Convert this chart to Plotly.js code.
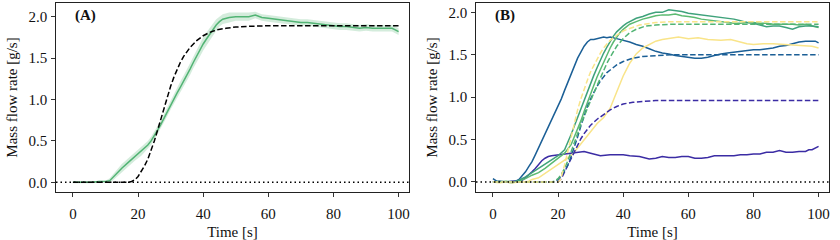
<!DOCTYPE html>
<html>
<head>
<meta charset="utf-8">
<script src="https://cdn.plot.ly/plotly-3.0.1.min.js"></script>
<style>html,body{margin:0;padding:0;background:#fff;}#chart{width:840px;height:240px;}</style>
</head>
<body>
<div id="chart"></div>
<script>
// ---------- Panel A data ----------
const tA = [0,2,4,6,8,10,11.3,13,15,17,19,21,23,24,25,26,27,28,29,30,31,32,33,34,35,36,37,38,39,40,41,42,43,44,45,46,48,50,52,54,56,58,60,62,64,66,68,70,72,74,76,78,80,82,84,86,88,90,92,94,96,98,99,100];
const flowA = [0,0,0.005,0,0.01,0.01,0.02,0.09,0.17,0.24,0.31,0.37,0.45,0.50,0.56,0.63,0.70,0.78,0.86,0.94,1.01,1.08,1.15,1.22,1.29,1.37,1.45,1.53,1.60,1.67,1.73,1.79,1.85,1.90,1.94,1.97,1.99,2.00,2.00,2.00,2.02,1.99,1.98,1.97,1.96,1.95,1.94,1.93,1.93,1.92,1.91,1.90,1.89,1.88,1.88,1.87,1.86,1.87,1.86,1.86,1.86,1.86,1.84,1.82];
const spreadA = [0.01,0.01,0.01,0.01,0.01,0.01,0.03,0.04,0.05,0.05,0.05,0.05,0.05,0.05,0.05,0.05,0.05,0.05,0.06,0.06,0.06,0.06,0.07,0.07,0.07,0.07,0.07,0.07,0.08,0.08,0.08,0.07,0.07,0.07,0.06,0.06,0.06,0.05,0.05,0.05,0.04,0.04,0.04,0.04,0.04,0.04,0.04,0.04,0.04,0.04,0.04,0.04,0.04,0.04,0.04,0.04,0.04,0.04,0.04,0.04,0.04,0.04,0.04,0.04];
const tModelA = [0,10,17,18,19,20,21,22,23,24,25,26,27,28,29,30,31,32,33,34,35,36,38,40,42,44,47,50,55,60,100];
const modelA = [0,0,0,0.01,0.03,0.07,0.13,0.2,0.28,0.38,0.5,0.63,0.77,0.91,1.04,1.16,1.27,1.37,1.45,1.52,1.58,1.63,1.71,1.77,1.81,1.84,1.86,1.875,1.885,1.89,1.89];

// ---------- Panel B data ----------
const tPurple = [0,2,4,6,8,9,10,11,12,13,14,15,16,17,18,20,22,25,28,30,33,36,40,42,45,48,50,52,54,56,58,60,62,64,66,68,70,72,74,76,78,80,82,84,86,88,90,92,94,96,97,98,99,100];
const purple = [0,0.01,0,0.005,0.01,0.02,0.05,0.08,0.12,0.16,0.21,0.25,0.28,0.30,0.31,0.32,0.33,0.34,0.36,0.34,0.31,0.32,0.32,0.31,0.30,0.27,0.28,0.30,0.29,0.29,0.30,0.30,0.28,0.28,0.29,0.31,0.31,0.31,0.31,0.32,0.32,0.33,0.33,0.35,0.35,0.37,0.35,0.35,0.36,0.36,0.38,0.38,0.40,0.42];
const tPurpleModel = [0,20,21,22,23,24,25,26,27,28,30,32,34,36,38,40,43,46,50,60,100];
const purpleModel = [0,0,0.04,0.12,0.2,0.28,0.36,0.44,0.51,0.57,0.67,0.74,0.80,0.85,0.89,0.92,0.94,0.95,0.96,0.96,0.96];

const tBlue = [0,0.5,1,1.5,3,5,7,8,9,10,11,12,13,14,15,16,17,18,19,20,21,22,23,24,25,26,27,28,29,30,31,32,33,34,35,36,38,40,42,44,46,48,50,52,54,56,58,60,62,64,66,68,70,72,74,76,78,80,82,84,86,88,90,92,94,96,98,99,100];
const blue = [0.04,0.03,0.01,0,0,0.005,0.01,0.03,0.07,0.12,0.18,0.24,0.32,0.40,0.48,0.56,0.64,0.72,0.80,0.89,0.98,1.08,1.18,1.28,1.37,1.46,1.53,1.60,1.65,1.68,1.68,1.69,1.70,1.71,1.70,1.71,1.69,1.67,1.65,1.62,1.60,1.57,1.54,1.52,1.51,1.49,1.48,1.47,1.46,1.46,1.47,1.49,1.51,1.52,1.53,1.54,1.55,1.56,1.56,1.57,1.58,1.60,1.61,1.63,1.65,1.66,1.66,1.66,1.64];
const tBlueModel = [0,19,20,21,22,23,24,25,26,27,28,29,30,31,32,33,34,35,36,38,40,43,46,50,55,60,100];
const blueModel = [0,0,0.03,0.07,0.13,0.2,0.3,0.41,0.53,0.66,0.78,0.89,0.98,1.06,1.13,1.19,1.24,1.29,1.32,1.38,1.42,1.46,1.48,1.49,1.50,1.50,1.50];

const tTeal = [0,2,4,6,8,10,12,14,16,18,20,22,23,24,25,26,27,28,29,30,31,32,33,34,35,36,37,38,39,40,41,42,44,46,48,50,52,54,56,58,60,62,64,66,68,70,72,74,76,78,80,82,84,86,88,90,92,94,96,98,100];
const teal = [0,0.01,0,-0.01,0.02,0.06,0.11,0.16,0.21,0.26,0.31,0.38,0.46,0.56,0.66,0.76,0.87,0.98,1.08,1.17,1.26,1.35,1.44,1.52,1.59,1.66,1.72,1.77,1.81,1.84,1.87,1.89,1.93,1.95,1.98,2.00,2.00,2.03,2.02,2.01,1.99,1.98,1.97,1.96,1.95,1.94,1.93,1.92,1.90,1.88,1.87,1.85,1.83,1.84,1.84,1.82,1.80,1.83,1.84,1.84,1.83];

const tGreen = [0,2,4,6,8,10,12,14,16,18,20,22,24,25,26,27,28,29,30,31,32,33,34,35,36,37,38,39,40,41,42,44,46,48,50,52,54,56,58,60,62,64,66,68,70,72,74,76,78,80,82,84,86,88,90,92,94,96,98,100];
const green = [0,0,0.01,0,0.01,0.04,0.08,0.11,0.16,0.22,0.28,0.34,0.44,0.53,0.62,0.72,0.83,0.94,1.04,1.14,1.24,1.33,1.42,1.50,1.58,1.65,1.71,1.76,1.80,1.83,1.86,1.89,1.92,1.94,1.96,1.97,1.97,1.98,1.96,1.95,1.94,1.92,1.91,1.90,1.89,1.88,1.87,1.87,1.88,1.88,1.87,1.87,1.86,1.86,1.86,1.86,1.85,1.86,1.84,1.82];
const tGreenModel = [0,18,19,20,21,22,23,24,25,26,27,28,29,30,31,32,33,34,35,36,37,38,40,42,44,47,50,55,60,100];
const greenModel = [0,0,0.01,0.04,0.09,0.16,0.25,0.35,0.46,0.57,0.68,0.78,0.87,0.96,1.05,1.14,1.23,1.32,1.40,1.47,1.54,1.60,1.69,1.76,1.80,1.84,1.85,1.86,1.86,1.86];

const tYellow = [0,2,4,6,8,10,11,12,14,16,18,20,22,24,26,28,30,32,34,36,38,40,42,44,46,48,50,52,54,57,60,63,66,70,73,76,78,80,83,86,90,93,96,98,100];
const yellow = [0,-0.01,0,-0.01,0,0,0.01,0.03,0.05,0.10,0.16,0.21,0.25,0.31,0.40,0.50,0.60,0.69,0.76,0.87,1.06,1.25,1.40,1.51,1.58,1.62,1.66,1.68,1.69,1.71,1.69,1.70,1.68,1.67,1.68,1.65,1.63,1.62,1.63,1.63,1.62,1.62,1.61,1.60,1.58];
const tYellowModel = [0,20,20.6,21,22,23,24,25,26,27,28,29,30,31,32,33,34,35,36,38,40,42,45,50,55,60,100];
const yellowModel = [0,0,0.02,0.06,0.2,0.36,0.53,0.7,0.85,0.98,1.1,1.2,1.3,1.38,1.46,1.52,1.58,1.63,1.67,1.73,1.78,1.81,1.85,1.88,1.89,1.89,1.89];

const xTicks = [0,20,40,60,80,100];
const yTicks = [0,0.5,1,1.5,2];
const yTickText = ['0.0','0.5','1.0','1.5','2.0'];
const panelLabels = ['(A)','(B)'];
const xLabel = 'Time [s]';
const yLabel = 'Mass flow rate [g/s]';

// ---------- Styling ----------
const C = {purple:'#3b2ca4', blue:'#1b5f96', teal:'#3fa27b', green:'#5cba72', greenA:'#52b474', yellow:'#f9e489'};
const DASH = '5.5px,2.5px';
const FONT = 'Liberation Serif, Times New Roman, serif';

const hiA = flowA.map((v,i)=>v+spreadA[i]);
const loA = flowA.map((v,i)=>v-spreadA[i]);

function line(x,y,color,xa,ya,dash){
  return {type:'scatter',mode:'lines',x:x,y:y,xaxis:xa,yaxis:ya,showlegend:false,hoverinfo:'skip',
    line:{color:color,width:1.5,dash:dash||'solid'}};
}

const traces = [
  {type:'scatter',mode:'lines',x:tA,y:loA,xaxis:'x',yaxis:'y',line:{width:0,color:'rgba(0,0,0,0)'},showlegend:false,hoverinfo:'skip'},
  {type:'scatter',mode:'lines',x:tA,y:hiA,xaxis:'x',yaxis:'y',fill:'tonexty',fillcolor:'rgba(82,180,116,0.25)',line:{width:0,color:'rgba(0,0,0,0)'},showlegend:false,hoverinfo:'skip'},
  line(tA,flowA,C.greenA,'x','y'),
  line(tModelA,modelA,'#000000','x','y',DASH),

  line(tPurple,purple,C.purple,'x2','y2'),
  line(tBlue,blue,C.blue,'x2','y2'),
  line(tGreen,green,C.green,'x2','y2'),
  line(tTeal,teal,C.teal,'x2','y2'),
  line(tYellow,yellow,C.yellow,'x2','y2'),
  line(tPurpleModel,purpleModel,C.purple,'x2','y2',DASH),
  line(tBlueModel,blueModel,C.blue,'x2','y2',DASH),
  line(tGreenModel,greenModel,C.greenA,'x2','y2',DASH),
  line(tYellowModel,yellowModel,C.yellow,'x2','y2',DASH)
];

function xaxis(domain, anchor){
  return {domain:domain,anchor:anchor,range:[-5.2,103.2],tickvals:xTicks,ticktext:xTicks.map(String),
    ticks:'outside',ticklen:3.5,tickwidth:0.8,tickcolor:'#000',showline:true,linecolor:'#222',linewidth:1.2,mirror:true,
    showgrid:false,zeroline:false,ticklabelstandoff:4,tickfont:{family:FONT,size:15,color:'#111'},
    title:{text:xLabel,font:{family:FONT,size:15,color:'#111'},standoff:6}};
}
function yaxis(domain, anchor, range){
  return {domain:domain,anchor:anchor,range:range,tickvals:yTicks,ticktext:yTickText,
    ticks:'outside',ticklen:3.5,tickwidth:0.8,tickcolor:'#000',showline:true,linecolor:'#222',linewidth:1.2,mirror:true,
    showgrid:false,zeroline:false,ticklabelstandoff:1,tickfont:{family:FONT,size:15,color:'#111'},
    title:{text:yLabel,font:{family:FONT,size:15,color:'#111'},standoff:7}};
}

const yDom = [1-192/240, 1-3/240];
const layout = {
  width:840,height:240,margin:{l:0,r:0,t:0,b:0},paper_bgcolor:'#fff',plot_bgcolor:'#fff',
  xaxis:xaxis([56/840,409/840],'y'),
  yaxis:yaxis(yDom,'x',[-0.117,2.165]),
  xaxis2:xaxis([476/840,829/840],'y2'),
  yaxis2:yaxis(yDom,'x2',[-0.118,2.11]),
  shapes:[
    {type:'line',xref:'x domain',yref:'y',x0:0,x1:1,y0:0,y1:0,line:{color:'#000',width:1.5,dash:'1.5px,3px'}},
    {type:'line',xref:'x2 domain',yref:'y2',x0:0,x1:1,y0:0,y1:0,line:{color:'#000',width:1.5,dash:'1.5px,3px'}}
  ],
  annotations:[
    {text:'<b>'+panelLabels[0]+'</b>',xref:'paper',yref:'paper',x:73/840,y:1-16/240,xanchor:'left',yanchor:'middle',showarrow:false,font:{family:FONT,size:15,color:'#111'}},
    {text:'<b>'+panelLabels[1]+'</b>',xref:'paper',yref:'paper',x:493/840,y:1-16/240,xanchor:'left',yanchor:'middle',showarrow:false,font:{family:FONT,size:15,color:'#111'}}
  ]
};

Plotly.newPlot('chart',traces,layout,{staticPlot:true,displayModeBar:false});
</script>
</body>
</html>
